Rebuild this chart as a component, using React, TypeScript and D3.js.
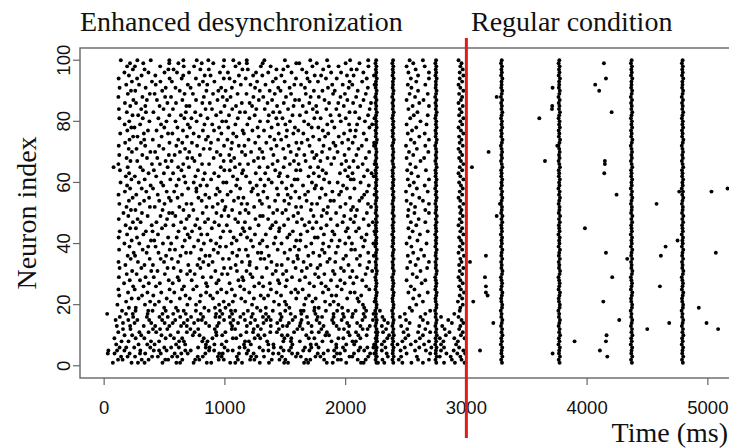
import React from "react";
import * as d3 from "d3";

const xTicks = [0, 1000, 2000, 3000, 4000, 5000];
const yTicks = [0, 20, 40, 60, 80, 100];
const switchTime = 3000;
const titleLeft = "Enhanced desynchronization";
const titleRight = "Regular condition";
const xLabel = "Time (ms)";
const yLabel = "Neuron index";

// synchronized population bursts (all neurons fire), ms
const burstTimes = [2252, 2392, 2748, 3292, 3769, 4368, 4790];
// small per-neuron spread within a burst (ms), neuron 1..100
const burstJitter = [
  3, -4, 6, -2, 0, 5, -6, 2, -3, 7,
  -1, 4, -5, 1, 6, -3, 0, -7, 3, 5,
  -2, -4, 2, 6, -5, 0, 4, -1, -6, 3,
  7, -2, 1, -4, 5, -3, 0, 6, -5, 2,
  -1, 4, -6, 3, 0, -3, 5, -2, 7, -4,
  1, 3, -5, 0, 6, -2, 4, -6, 2, -1,
  5, -3, 0, -4, 6, 1, -5, 3, -2, 4,
  0, -6, 2, 7, -3, 1, -4, 5, -1, 3,
  -5, 0, 6, -2, 2, -4, 4, -6, 1, 5,
  -3, 0, -1, 6, -4, 2, -2, 3, -5, 1,
];

// desynchronized-phase spike times (ms), index = neuron - 1
const desyncSpikes: number[][] = [
  [72,227,280,335,483,598,629,741,850,887,1044,1086,1142,1289,1365,1491,1523,1656,1689,1844,1893,2005,2127,2149,2268,2320,2470,2545,2640,2815,2905,2985],
  [115,153,311,368,506,530,647,754,788,949,991,1108,1209,1244,1388,1452,1501,1673,1707,1822,1935,1961,2100,2166,2305,2440,2600,2690,2880,2960],
  [140,194,256,397,445,563,606,775,817,942,973,1099,1217,1260,1324,1472,1588,1629,1750,1791,1906,2032,2055,2187,2253,2350,2460,2590,2780,2870,2950],
  [30,86,211,297,340,469,584,639,692,838,953,982,1116,1181,1238,1399,1445,1556,1602,1769,1817,1928,1954,2069,2203,2238,2340,2505,2700,2835,2925,2990],
  [35,107,168,300,411,455,517,672,717,869,911,1024,1065,1193,1316,1361,1486,1532,1649,1700,1854,1905,1994,2107,2154,2300,2455,2575,2665,2790,2895,2975],
  [128,183,249,382,498,555,619,778,842,873,997,1121,1164,1287,1405,1464,1548,1663,1716,1776,1923,1978,2121,2180,2230,2330,2490,2610,2710,2815,2940],
  [100,285,357,418,596,671,843,913,974,1158,1215,1360,1402,1559,1711,1757,1922,2005,2071,2236,2300,2430,2540,2650,2790,2915],
  [144,202,388,455,621,660,813,856,1012,1167,1199,1350,1484,1547,1621,1808,1883,2057,2085,2260,2320,2470,2580,2690,2810,2930],
  [85,261,333,509,578,646,825,897,1066,1094,1247,1293,1493,1550,1695,1741,1940,1981,2122,2256,2345,2495,2615,2780,2900,2985],
  [169,232,307,475,549,735,790,930,978,1131,1276,1328,1472,1519,1674,1833,1862,2033,2105,2174,2360,2520,2640,2830,2955],
  [117,292,368,431,612,685,749,927,1004,1178,1233,1376,1431,1573,1719,1778,1845,2021,2086,2264,2310,2480,2600,2700,2860,2970],
  [156,218,404,463,523,714,779,916,1057,1085,1239,1298,1447,1600,1643,1799,1945,1986,2141,2182,2335,2510,2660,2820,2940],
  [105,215,328,423,540,637,684,870,936,1060,1182,1271,1380,1479,1515,1620,1718,1817,1925,2029,2122,2200,2300,2460,2610,2800,2950],
  [156,252,390,501,568,660,745,841,950,1047,1109,1212,1320,1434,1530,1626,1690,1784,1900,2013,2095,2350,2530,2680,2880,2975],
  [95,200,275,373,480,589,690,778,809,993,1070,1166,1250,1343,1380,1460,1561,1635,1760,1888,1967,2139,2226,2320,2500,2640,2850,2960],
  [130,240,354,458,527,630,720,820,922,957,1040,1128,1220,1315,1362,1470,1582,1680,1769,1805,1900,1986,2054,2160,2305,2450,2620,2790,2935],
  [25,181,237,360,483,572,676,800,927,979,1060,1154,1231,1340,1458,1545,1633,1750,1900,1978,2060,2149,2231,2490,2660,2900],
  [148,260,365,401,510,611,659,760,866,960,1050,1086,1190,1295,1397,1500,1629,1652,1740,1837,1930,2020,2083,2170,2284,2550,2700,2945],
  [205,262,497,595,830,918,1005,1266,1339,1534,1743,1777,1971,2154,2530,2950],
  [110,338,420,689,761,952,1033,1225,1448,1509,1657,1871,1940,2143,2585,2970],
  [182,381,454,553,792,990,1066,1168,1407,1497,1725,1830,1901,2109,2240,2640,2930],
  [228,285,518,627,709,901,1136,1240,1324,1591,1670,1752,2013,2098,2560,2965],
  [125,314,407,674,800,879,1083,1297,1358,1465,1696,1884,1922,2129,2610,2945],
  [198,359,473,581,845,937,1014,1202,1428,1549,1606,1812,2039,2075,2520,2680,2980],
  [118,253,542,645,738,969,1057,1160,1381,1584,1644,1858,1967,2196,2570,2955],
  [240,326,429,661,766,854,1127,1244,1317,1503,1738,1835,1930,2170,2540,2940],
  [165,370,461,568,844,930,1039,1283,1372,1451,1701,1799,1992,2064,2630,2970],
  [212,297,535,620,725,948,1112,1153,1440,1513,1620,1879,1956,2138,2505,2660,2950],
  [122,343,411,609,817,886,1144,1228,1308,1556,1665,1776,2037,2091,2590,2935],
  [187,269,503,687,750,976,1022,1211,1395,1481,1747,1824,1909,2165,2555,2965],
  [232,390,442,634,712,921,1100,1179,1422,1509,1637,1895,1986,2056,2220,2620,2945],
  [128,308,525,576,797,993,1048,1262,1346,1586,1679,1767,1961,2180,2510,2675,2975],
  [176,334,404,697,773,865,1089,1204,1431,1471,1710,1790,2024,2117,2580,2940],
  [119,280,496,612,821,898,1141,1207,1385,1567,1652,1849,1914,2195,2535,2690,2960],
  [220,377,468,560,789,983,1034,1296,1327,1522,1605,1868,1981,2093,2600,2950],
  [195,256,513,632,839,874,1101,1191,1364,1599,1691,1783,2003,2120,2233,2515,2650,2980],
  [245,352,450,678,717,943,1062,1273,1302,1494,1732,1826,1919,2187,2560,2935],
  [124,319,543,587,804,907,1118,1174,1437,1540,1613,1805,2046,2078,2625,2965],
  [210,365,426,649,744,959,1009,1233,1350,1578,1671,1862,1935,2146,2545,2945],
  [168,291,487,555,826,928,1056,1289,1406,1469,1716,1814,1997,2052,2230,2505,2670,2970],
  [228,388,415,668,779,883,1097,1216,1311,1591,1624,1883,1950,2159,2595,2955],
  [120,272,530,601,708,964,1073,1184,1419,1517,1745,1769,2028,2132,2530,2940],
  [190,325,446,692,804,855,1131,1249,1339,1536,1628,1820,1907,2173,2615,2975],
  [129,346,401,616,728,986,1044,1161,1448,1563,1683,1891,2002,2086,2239,2555,2680,2950],
  [215,263,479,669,791,892,1148,1207,1377,1452,1727,1796,2017,2110,2520,2965],
  [178,394,508,574,755,951,1016,1279,1393,1490,1661,1842,1931,2191,2585,2935],
  [238,302,433,637,835,914,1109,1166,1422,1597,1699,1758,1975,2068,2225,2540,2660,2960],
  [121,277,521,683,771,861,1086,1253,1358,1524,1638,1877,2040,2149,2605,2945],
  [200,360,467,590,703,972,1030,1292,1314,1568,1734,1801,1988,2081,2515,2970],
  [160,313,538,566,816,930,1124,1197,1400,1476,1606,1845,1921,2176,2570,2690,2950],
  [222,259,484,657,739,996,1060,1171,1433,1505,1712,1816,2045,2094,2520,2660,2960],
  [185,379,419,623,847,899,1005,1242,1367,1589,1632,1853,1956,2061,2210,2575,2945],
  [126,294,500,682,723,941,1138,1185,1307,1531,1720,1764,1999,2185,2540,2690,2975],
  [205,331,456,552,808,979,1075,1289,1416,1492,1677,1874,1903,2114,2505,2640,2950],
  [236,372,537,608,781,870,1111,1154,1352,1546,1617,1786,2037,2135,2610,2935],
  [119,266,444,645,838,924,1022,1274,1441,1520,1664,1834,1946,2154,2239,2555,2965],
  [172,349,518,580,764,957,1049,1220,1319,1584,1689,1890,1962,2177,2500,2680,2945],
  [215,311,405,696,764,938,1126,1232,1431,1509,1744,1802,2010,2073,2590,2970],
  [190,385,489,599,797,851,1094,1263,1329,1554,1647,1755,1979,2192,2530,2655,2955],
  [136,287,472,673,742,987,1013,1208,1388,1472,1721,1865,1934,2124,2565,2940],
  [226,336,548,618,820,886,1103,1295,1362,1577,1602,1821,2042,2067,2515,2690,2975],
  [180,254,431,662,756,949,1067,1176,1447,1519,1693,1779,2019,2152,2233,2600,2950],
  [207,368,495,571,833,912,1142,1256,1334,1456,1736,1838,1953,2057,2215,2545,2935],
  [131,321,412,640,777,995,1040,1151,1417,1590,1626,1809,1996,2181,2510,2665,2965],
  [78,195,300,526,613,702,966,1084,1286,1355,1487,1707,1772,2030,2102,2580,2945],
  [118,396,462,655,811,869,1123,1192,1395,1538,1611,1881,1966,2141,2240,2535,2975],
  [218,274,509,559,748,990,1050,1240,1437,1572,1669,1791,2004,2065,2620,2955],
  [186,355,440,689,730,907,1077,1275,1320,1498,1740,1850,1905,2167,2505,2650,2940],
  [125,316,536,584,793,963,1036,1169,1402,1594,1658,1759,1991,2089,2560,2965],
  [230,383,422,628,705,933,1141,1217,1309,1545,1723,1805,1933,2195,2525,2685,2950],
  [203,268,491,670,824,876,1052,1288,1383,1483,1613,1868,2027,2106,2590,2935],
  [121,340,455,598,770,993,1115,1162,1428,1528,1701,1817,1916,2134,2235,2500,2660,2970],
  [174,305,541,647,727,885,1059,1251,1343,1592,1636,1899,1971,2058,2236,2570,2945],
  [210,332,403,614,843,944,1021,1196,1410,1466,1685,1782,2021,2172,2540,2690,2960],
  [240,276,476,686,785,860,1096,1280,1373,1508,1731,1830,1943,2077,2610,2940],
  [133,329,529,565,741,971,1069,1157,1446,1567,1650,1856,1987,2150,2515,2655,2975],
  [192,363,434,653,818,910,1147,1228,1324,1514,1608,1811,2038,2084,2550,2955],
  [225,251,498,607,710,952,1028,1271,1387,1580,1719,1774,1907,2197,2585,2935],
  [170,298,471,693,831,895,1087,1186,1439,1501,1692,1848,2029,2095,2220,2505,2670,2965],
  [208,375,516,591,766,978,1010,1291,1356,1539,1656,1887,1960,2160,2620,2950],
  [126,320,449,664,723,856,1107,1203,1426,1477,1741,1793,2001,2113,2239,2535,2975],
  [235,282,540,636,799,928,1034,1247,1364,1560,1621,1875,1948,2186,2565,2680,2940],
  [188,346,408,677,754,966,1124,1167,1400,1454,1674,1763,2032,2079,2595,2960],
  [122,307,492,570,840,893,1061,1260,1330,1523,1728,1840,1923,2199,2520,2945],
  [216,341,459,681,707,997,1092,1225,1432,1569,1645,1756,1985,2121,2555,2690,2970],
  [172,264,524,595,813,875,1140,1205,1353,1488,1699,1863,1939,2062,2210,2610,2935],
  [242,354,437,648,761,939,1018,1281,1391,1581,1615,1825,2014,2148,2505,2645,2955],
  [118,317,505,554,826,982,1047,1236,1318,1506,1710,1778,1957,2087,2248,2575,2965],
  [196,378,418,666,735,902,1105,1179,1413,1548,1670,1896,1994,2167,2530,2680,2940],
  [222,258,481,626,847,946,1006,1289,1371,1461,1737,1808,1910,2100,2600,2975],
  [128,344,510,591,716,969,1058,1250,1442,1536,1663,1854,2025,2184,2545,2950],
  [183,289,427,693,787,854,1132,1212,1336,1575,1631,1889,1976,2055,2240,2515,2660,2935],
  [230,396,466,561,818,913,1080,1267,1397,1495,1702,1771,2033,2137,2585,2965],
  [120,273,542,642,760,991,1039,1172,1422,1589,1684,1837,1926,2175,2540,2690,2945],
  [205,310,424,655,833,881,1116,1234,1310,1468,1744,1797,2011,2066,2235,2600,2975],
  [168,367,500,603,703,959,1025,1258,1359,1552,1676,1880,1962,2147,2520,2690,2945],
  [238,335,532,575,797,867,1145,1190,1427,1484,1640,1814,2047,2092,2580,2970],
  [190,255,464,659,745,988,1088,1298,1379,1521,1725,1861,1941,2189,2505,2655,2950],
  [214,324,539,615,808,904,1119,1182,1313,1591,1616,1761,2000,2115,2560,2960],
  [138,275,386,540,656,767,863,993,1070,1181,1327,1497,1707,1847,2037,2187,2530,2640,2935],
];

// isolated spikes in the regular condition: [time ms, neuron]
const regularSpikes: [number, number][] = [
  [3251,88],[3714,91],[3604,81],[3709,84],[3711,85],[3184,70],[3046,65],[3651,67],
  [3753,72],[4139,99],[4156,94],[4067,92],[4100,90],[4203,83],[4147,67],[4147,66],
  [4142,63],[4244,56],[4575,53],[4763,57],[5030,57],[5163,58],[3278,53],[3251,49],
  [3030,34],[3162,36],[3154,29],[3162,26],[3162,24],[3176,23],[3057,21],[3223,14],
  [3113,5],[3982,45],[3714,4],[3896,8],[4156,37],[4208,29],[4134,21],[4266,15],
  [4161,10],[4156,8],[4106,5],[4167,3],[4332,35],[4650,39],[4611,36],[4603,26],
  [4498,12],[4680,14],[4749,41],[5066,37],[4925,19],[4989,14],[5085,12],
];

const W = 729;
const H = 448;
const serif = "'Liberation Serif', 'Times New Roman', Times, serif";
const sans = "'Liberation Sans', Arial, Helvetica, sans-serif";

export default function App() {
  const x = d3.scaleLinear().domain([-200, 5200]).range([80, 732]);
  const y = d3.scaleLinear().domain([-4, 104]).range([378, 48]);

  const points: [number, number][] = [];
  desyncSpikes.forEach((ts, i) => ts.forEach((t) => points.push([t, i + 1])));
  burstTimes.forEach((b) => burstJitter.forEach((j, i) => points.push([b + j, i + 1])));
  regularSpikes.forEach((p) => points.push(p));

  const [x0, x1] = x.range();
  const [y0, y1] = y.range();

  return (
    <div style={{ position: "absolute", left: 0, top: 0 }}>
      <svg width={W} height={H} style={{ display: "block", background: "#fff" }}>
        <text x={80} y={31} fontFamily={serif} fontSize={28} fill="#111">{titleLeft}</text>
        <text x={471} y={31} fontFamily={serif} fontSize={28} fill="#111">{titleRight}</text>

        <g>
          {points.map((p, i) => (
            <circle key={i} cx={x(p[0])} cy={y(p[1])} r={1.95} fill="#000" />
          ))}
        </g>

        <rect x={x0} y={y1} width={x1 - x0} height={y0 - y1} fill="none" stroke="#666" strokeWidth={1.4} />

        {xTicks.map((t) => (
          <g key={"x" + t}>
            <line x1={x(t)} x2={x(t)} y1={y0} y2={y0 + 7} stroke="#666" strokeWidth={1.2} />
            <text x={x(t)} y={414} textAnchor="middle" fontFamily={sans} fontSize={18.5} fill="#111">{t}</text>
          </g>
        ))}
        {yTicks.map((t) => (
          <g key={"y" + t}>
            <line x1={x0} x2={x0 - 7} y1={y(t)} y2={y(t)} stroke="#666" strokeWidth={1.2} />
            <text transform={`translate(70,${y(t)}) rotate(-90)`} textAnchor="middle" fontFamily={sans} fontSize={18.5} fill="#111">{t}</text>
          </g>
        ))}

        <text x={728} y={442} textAnchor="end" fontFamily={serif} fontSize={28} fill="#111">{xLabel}</text>
        <text transform={`translate(36,${(y0 + y1) / 2}) rotate(-90)`} textAnchor="middle" fontFamily={serif} fontSize={28} fill="#111">{yLabel}</text>

        <line x1={x(switchTime)} x2={x(switchTime)} y1={38} y2={438} stroke="#dd1c1c" strokeWidth={3} />
      </svg>
    </div>
  );
}
